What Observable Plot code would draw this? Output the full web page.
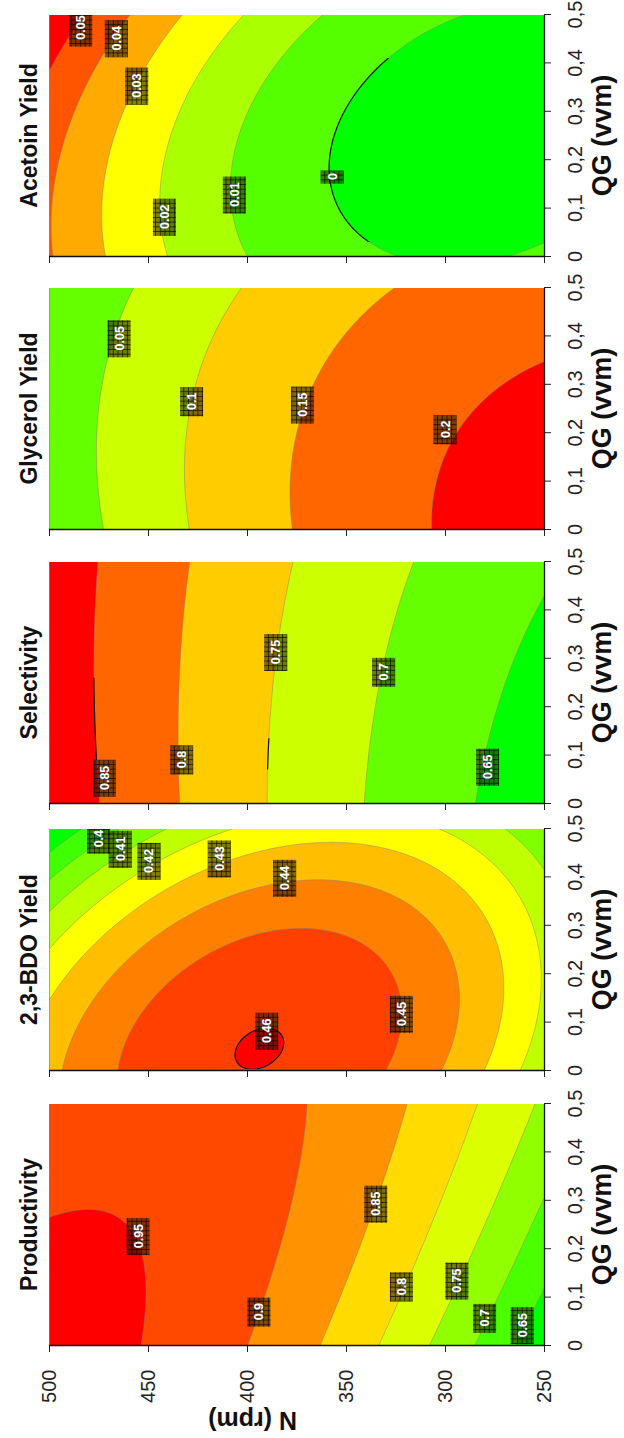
<!DOCTYPE html>
<html>
<head>
<meta charset="utf-8">
<script src="https://cdn.jsdelivr.net/npm/d3@7"></script>
<script src="https://cdn.jsdelivr.net/npm/@observablehq/plot@0.6"></script>
<style>
  html, body { margin: 0; padding: 0; background: #fff; overflow: hidden; }
  #page { position: relative; width: 624px; height: 1438px; overflow: hidden; background: #fff; }
  /* the five panels are laid out side by side, then the whole figure is turned a quarter turn */
  #fig { position: absolute; left: 0; top: 0; width: 1438px; height: 624px;
         transform-origin: 0 0; transform: translate(0, 1438px) rotate(-90deg);
         font-family: "Liberation Sans", Arial, sans-serif; }
  #fig svg.panel { position: absolute; top: 0; }
</style>
</head>
<body>
<div id="page"><div id="fig"></div></div>
<script>
// ---- axes ----
const qgRange = [0, 0.5];
const nRange = [250, 500];
const qgTicks = [0, 0.1, 0.2, 0.3, 0.4, 0.5];
const nTicks = [250, 300, 350, 400, 450, 500];

const panelTitles = ["Productivity", "2,3-BDO Yield", "Selectivity", "Glycerol Yield", "Acetoin Yield"];

// ---- quadratic response-surface models, coded units (QG and N scaled to -1..1) ----
// order: intercept, QG, N, QG², N², QG·N
const productivityCoef = [0.8943, 0.0182, 0.1329, -0.0088, -0.0755, -0.0459];
const bdoCoef          = [0.45329, -0.01694, 0.000857, -0.0114, -0.034, -0.01156];
const selectivityCoef  = [0.7382, 0.00715, 0.1207, 0.00295, 0.019, -0.0095];
const glycerolCoef     = [0.1474, -0.015576, -0.09597, -0.011, -0.03192, 0.009651];
const acetoinCoef      = [0.00335, 0.00376, 0.02464, 0.00585, 0.01562, 0.00499];

// ---- contour levels and band colours (low -> high) ----
const productivityLevels = [0.6, 0.65, 0.7, 0.75, 0.8, 0.85, 0.9, 0.95];
const productivityColors = ["#00ff00", "#49ff00", "#92ff00", "#dbff00", "#ffdb00", "#ff9200", "#ff4900", "#ff0000"];
const bdoLevels = [0.38, 0.39, 0.4, 0.41, 0.42, 0.43, 0.44, 0.45, 0.46];
const bdoColors = ["#00ff00", "#40ff00", "#80ff00", "#bfff00", "#ffff00", "#ffbf00", "#ff8000", "#ff4000", "#ff0000"];
const selectivityLevels = [0.6, 0.65, 0.7, 0.75, 0.8, 0.85];
const selectivityColors = ["#00ff00", "#66ff00", "#ccff00", "#ffcc00", "#ff6600", "#ff0000"];
const glycerolLevels = [-0.05, 0, 0.05, 0.1, 0.15, 0.2];
const glycerolColors = ["#00ff00", "#66ff00", "#ccff00", "#ffcc00", "#ff6600", "#ff0000"];
const acetoinLevels = [-0.01, 0, 0.01, 0.02, 0.03, 0.04, 0.05];
const acetoinColors = ["#00ff00", "#55ff00", "#aaff00", "#ffff00", "#ffaa00", "#ff5500", "#ff0000"];

// ---- contour labels ----
const productivityLabelText = ["0.95", "0.9", "0.85", "0.8", "0.75", "0.7", "0.65"];
const productivityLabelQG   = [0.226, 0.070, 0.293, 0.122, 0.134, 0.057, 0.042];
const productivityLabelN    = [455, 394, 335, 322, 294, 280, 261];
const bdoLabelText = ["0.4", "0.41", "0.42", "0.43", "0.44", "0.45", "0.46"];
const bdoLabelQG   = [0.479, 0.458, 0.433, 0.438, 0.398, 0.117, 0.082];
const bdoLabelN    = [475, 464, 449.5, 414, 381, 322, 390];
const selectivityLabelText = ["0.85", "0.8", "0.75", "0.7", "0.65"];
const selectivityLabelQG   = [0.053, 0.091, 0.313, 0.272, 0.076];
const selectivityLabelN    = [472, 433, 385.5, 331, 278.5];
const glycerolLabelText = ["0.05", "0.1", "0.15", "0.2"];
const glycerolLabelQG   = [0.395, 0.265, 0.258, 0.207];
const glycerolLabelN    = [464.6, 428, 372, 300];
const acetoinLabelText = ["0.05", "0.04", "0.03", "0.02", "0.01", "0"];
const acetoinLabelQG   = [0.473, 0.451, 0.353, 0.082, 0.128, 0.165];
const acetoinLabelN    = [484, 466, 455.7, 441.7, 406.4, 357];

// ---- darker contour segments: level, QG from, QG to ----
const productivityDarkLevel = [], productivityDarkFrom = [], productivityDarkTo = [];
const bdoDarkLevel = [0.46], bdoDarkFrom = [0], bdoDarkTo = [0.5];
const selectivityDarkLevel = [0.85, 0.75], selectivityDarkFrom = [0.09, 0.07], selectivityDarkTo = [0.26, 0.135];
const glycerolDarkLevel = [], glycerolDarkFrom = [], glycerolDarkTo = [];
const acetoinDarkLevel = [0], acetoinDarkFrom = [0.03], acetoinDarkTo = [0.41];

// ---- layout (figure pixels before the quarter turn) ----
const plotLeft = [92, 367, 634, 908, 1181];
const plotW = 242, marginTop = 49, marginBottom = 80, figH = 624;
const plotH = figH - marginTop - marginBottom;

const fig = document.getElementById("fig");
fig.insertAdjacentHTML("beforeend",
  `<svg width="0" height="0" style="position:absolute">
     <defs>
       <pattern id="lblgrid" width="4.7" height="4.7" patternUnits="userSpaceOnUse">
         <path d="M0 0.4H4.7M0.4 0V4.7" stroke="#000" stroke-width="0.9" stroke-opacity="0.75" fill="none"/>
       </pattern>
     </defs>
   </svg>`);

const panels = [
  {coef: productivityCoef, levels: productivityLevels, colors: productivityColors,
   lt: productivityLabelText, lq: productivityLabelQG, ln: productivityLabelN,
   dl: productivityDarkLevel, df: productivityDarkFrom, dt: productivityDarkTo},
  {coef: bdoCoef, levels: bdoLevels, colors: bdoColors,
   lt: bdoLabelText, lq: bdoLabelQG, ln: bdoLabelN,
   dl: bdoDarkLevel, df: bdoDarkFrom, dt: bdoDarkTo},
  {coef: selectivityCoef, levels: selectivityLevels, colors: selectivityColors,
   lt: selectivityLabelText, lq: selectivityLabelQG, ln: selectivityLabelN,
   dl: selectivityDarkLevel, df: selectivityDarkFrom, dt: selectivityDarkTo},
  {coef: glycerolCoef, levels: glycerolLevels, colors: glycerolColors,
   lt: glycerolLabelText, lq: glycerolLabelQG, ln: glycerolLabelN,
   dl: glycerolDarkLevel, df: glycerolDarkFrom, dt: glycerolDarkTo},
  {coef: acetoinCoef, levels: acetoinLevels, colors: acetoinColors,
   lt: acetoinLabelText, lq: acetoinLabelQG, ln: acetoinLabelN,
   dl: acetoinDarkLevel, df: acetoinDarkFrom, dt: acetoinDarkTo}
];

const qMid = (qgRange[0] + qgRange[1]) / 2, qHalf = (qgRange[1] - qgRange[0]) / 2;
const nMid = (nRange[0] + nRange[1]) / 2, nHalf = (nRange[1] - nRange[0]) / 2;

panels.forEach((p, i) => {
  const first = i === 0;
  const mL = first ? 92 : 22, mR = 16;
  const c = p.coef;
  const surface = (q, n) => {
    const x = (q - qMid) / qHalf, y = (n - nMid) / nHalf;
    return c[0] + c[1] * x + c[2] * y + c[3] * x * x + c[4] * y * y + c[5] * x * y;
  };
  const qPerPx = (qgRange[1] - qgRange[0]) / plotW;
  const nPerPx = (nRange[1] - nRange[0]) / plotH;
  const labels = p.lt.map((t, k) => ({
    t, q: p.lq[k], n: p.ln[k],
    hw: (8 * t.length + 5) / 2 * qPerPx,
    hh: 11.5 * nPerPx
  }));
  const box = {x1: d => d.q - d.hw, x2: d => d.q + d.hw, y1: d => d.n - d.hh, y2: d => d.n + d.hh, clip: true};
  const area = {x1: qgRange[0], x2: qgRange[1], y1: nRange[0], y2: nRange[1], pixelSize: 1};

  const marks = [
    Plot.contour({value: surface, ...area, thresholds: p.levels, fill: "value",
                  stroke: "#7d7d7d", strokeWidth: 0.6, strokeOpacity: 0.75, clip: true}),
    ...p.dl.map(level => Plot.contour({value: surface, ...area, thresholds: [level],
                  fill: "none", stroke: "#111", strokeWidth: 1.2})),
    Plot.rect(labels, {...box, fill: "#1e1600", fillOpacity: 0.55}),
    Plot.rect(labels, {...box, fill: "url(#lblgrid)"}),
    Plot.text(labels, {x: "q", y: "n", text: "t", fill: "#fff", fontSize: 12.5, fontWeight: "bold",
                  stroke: "#4a70c8", strokeWidth: 0.5, strokeOpacity: 0.6, clip: true}),
    Plot.ruleX([qgRange[0]], {stroke: "#111", strokeWidth: 1.3}),
    Plot.ruleY([nRange[0]], {stroke: "#111", strokeWidth: 1.3}),
    Plot.text([panelTitles[i]], {text: d => d, frameAnchor: "top", dy: -29,
                  fontSize: 23, fontWeight: "bold", fill: "#111"}),
    Plot.text(["QG (vvm)"], {text: d => d, frameAnchor: "bottom", dy: 66,
                  fontSize: 27, fontWeight: "bold", fill: "#111"})
  ];
  if (first) {
    marks.push(Plot.text(["N (rpm)"], {text: d => d, frameAnchor: "left", dx: -74, rotate: -90,
                  fontSize: 25, fontWeight: "bold", fill: "#111"}));
  }

  const svg = Plot.plot({
    width: mL + plotW + mR,
    height: figH,
    marginLeft: mL, marginRight: mR, marginTop, marginBottom,
    x: {domain: qgRange, ticks: qgTicks, tickFormat: d => String(d).replace(".", ","),
        tickSize: 7, tickPadding: 16, label: null},
    y: {domain: nRange, ticks: nTicks, tickSize: 6, tickPadding: 18, label: null,
        tickFormat: first ? d => String(d) : () => ""},
    color: {type: "threshold", domain: p.levels.slice(1), range: p.colors},
    style: {fontFamily: "'Liberation Sans', Arial, sans-serif", fontSize: "20px",
            color: "#222", background: "transparent", overflow: "visible"},
    marks
  });
  svg.classList.add("panel");
  svg.style.left = (plotLeft[i] - mL) + "px";

  // keep each dark contour to its stretch of QG, away from the frame edges
  const groups = Array.from(svg.querySelectorAll('g[aria-label="contour"]')).slice(1);
  const ns = "http://www.w3.org/2000/svg";
  let defs = svg.querySelector("defs");
  if (!defs) { defs = document.createElementNS(ns, "defs"); svg.prepend(defs); }
  groups.forEach((g, k) => {
    const px1 = mL + (p.df[k] - qgRange[0]) / qPerPx;
    const px2 = mL + (p.dt[k] - qgRange[0]) / qPerPx;
    const cp = document.createElementNS(ns, "clipPath");
    cp.setAttribute("id", `dark-${i}-${k}`);
    const r = document.createElementNS(ns, "rect");
    r.setAttribute("x", Math.max(px1, mL + 1.5));
    r.setAttribute("width", Math.min(px2, mL + plotW - 1.5) - Math.max(px1, mL + 1.5));
    r.setAttribute("y", marginTop + 1.5);
    r.setAttribute("height", plotH - 3);
    cp.appendChild(r);
    defs.appendChild(cp);
    g.setAttribute("clip-path", `url(#dark-${i}-${k})`);
  });

  fig.appendChild(svg);
});
</script>
</body>
</html>
